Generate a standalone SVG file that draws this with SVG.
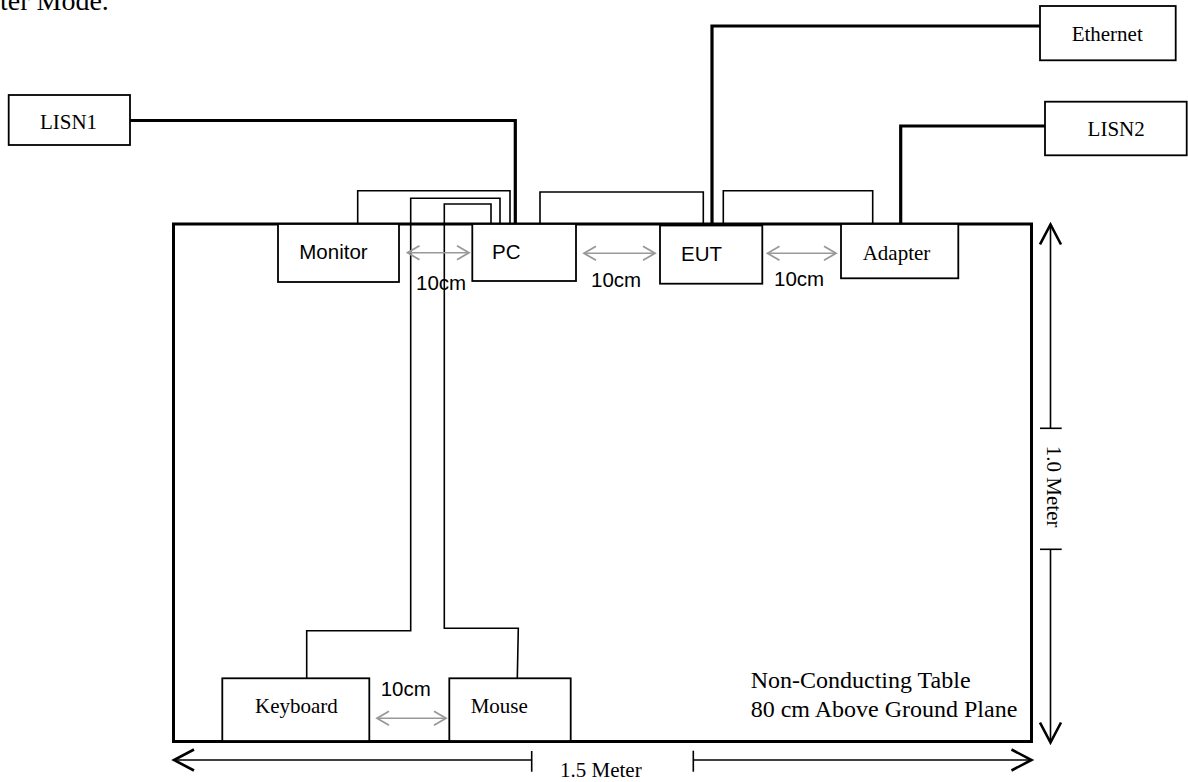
<svg xmlns="http://www.w3.org/2000/svg" width="1188" height="782" viewBox="0 0 1188 782">
<defs>
<style>
.serif{font-family:"Liberation Serif","Times New Roman",serif;font-size:21px;fill:#000}
.sans{font-family:"Liberation Sans",Arial,sans-serif;font-size:20.5px;fill:#000}
.box{fill:#fff;stroke:#000;stroke-width:1.8}
.cable{fill:none;stroke:#000;stroke-width:1.6}
.thick{fill:none;stroke:#000;stroke-width:3.2}
.gap{fill:none;stroke:#999;stroke-width:1.6;marker-start:url(#ga);marker-end:url(#ga)}
.dim{fill:none;stroke:#000;stroke-width:1.6}
</style>
<marker id="ga" markerUnits="userSpaceOnUse" viewBox="-14 -9 16 18" markerWidth="16" markerHeight="18" refX="0" refY="0" orient="auto-start-reverse">
<path d="M-12,-7 L0,0 L-12,7" fill="none" stroke="#999" stroke-width="1.8"/>
</marker>
<marker id="ba" markerUnits="userSpaceOnUse" viewBox="-23 -12 26 24" markerWidth="26" markerHeight="24" refX="0" refY="0" orient="auto-start-reverse">
<path d="M-20,-10.5 L0,0 L-20,10.5" fill="none" stroke="#000" stroke-width="2.6"/>
</marker>
</defs>
<rect width="1188" height="782" fill="#fff"/>
<text x="0" y="10" style="font-family:'Liberation Serif','Times New Roman',serif;font-size:28px">ter Mode.</text>

<g id="table">
<rect x="173.5" y="224" width="858" height="517.5" fill="none" stroke="#000" stroke-width="3"/>
<text class="serif" x="750.7" y="688.3" style="font-size:24px">Non-Conducting Table</text>
<text class="serif" x="750.7" y="716.7" style="font-size:24px">80 cm Above Ground Plane</text>
</g>

<g id="connectors">
<polyline class="thick" points="130,120.5 515.3,120.5 515.3,224"/>
<polyline class="thick" points="712,224 712,26 1040,26"/>
<polyline class="thick" points="900.7,224 900.7,126 1045,126"/>
<polyline class="cable" points="357.7,224 357.7,190.7 510,190.7 510,224"/>
<polyline class="cable" points="500,224 500,198.3 410.7,198.3 410.7,630.7 306.7,630.7 306.7,678"/>
<polyline class="cable" points="491,224 491,204 444.3,204 444.3,628.3 518.3,628.3 517.3,678"/>
<polyline class="cable" points="540,224 540,192 703.3,192 703.3,224"/>
<polyline class="cable" points="723.3,224 723.3,190.7 872.7,190.7 872.7,224"/>
<line class="gap" x1="407.5" y1="252.7" x2="469" y2="252.7"/>
<line class="gap" x1="584" y1="253.3" x2="655" y2="253.3"/>
<line class="gap" x1="767.5" y1="253.3" x2="836" y2="253.3"/>
<line class="gap" x1="377" y1="718.3" x2="446" y2="718.3"/>
</g>

<g id="gap-labels">
<text class="sans" x="416" y="290">10cm</text>
<text class="sans" x="591" y="287.3">10cm</text>
<text class="sans" x="774" y="286">10cm</text>
<text class="sans" x="380.7" y="696">10cm</text>
</g>

<g id="lisn1"><rect class="box" x="8.7" y="95" width="121.3" height="50"/><text class="serif" x="68.5" y="129.3" text-anchor="middle">LISN1</text></g>
<g id="ethernet"><rect class="box" x="1040" y="6" width="135.7" height="54.3"/><text class="serif" x="1107.2" y="41" text-anchor="middle">Ethernet</text></g>
<g id="lisn2"><rect class="box" x="1045" y="101.7" width="141.7" height="53.6"/><text class="serif" x="1116.2" y="136" text-anchor="middle">LISN2</text></g>
<g id="monitor"><rect class="box" x="278" y="224" width="121" height="58"/><text class="sans" x="299.3" y="259.3">Monitor</text></g>
<g id="pc"><rect class="box" x="472.3" y="224" width="103.7" height="57"/><text class="sans" x="492" y="259">PC</text></g>
<g id="eut"><rect class="box" x="660" y="225.5" width="102.3" height="58.2"/><text class="sans" x="681" y="260.7">EUT</text></g>
<g id="adapter"><rect class="box" x="841" y="224" width="117.3" height="54.3"/><text class="serif" x="862.7" y="260">Adapter</text></g>
<g id="keyboard"><rect class="box" x="222.3" y="678.3" width="147" height="62.7"/><text class="serif" x="255" y="713.3">Keyboard</text></g>
<g id="mouse"><rect class="box" x="449.3" y="678.3" width="121.4" height="62.7"/><text class="serif" x="470.7" y="713.3">Mouse</text></g>

<g id="dimensions">
<line class="dim" x1="174" y1="760" x2="531.7" y2="760" marker-start="url(#ba)"/>
<line class="dim" x1="531.7" y1="751" x2="531.7" y2="771.7"/>
<line class="dim" x1="693.3" y1="760" x2="1031.5" y2="760" marker-end="url(#ba)"/>
<line class="dim" x1="693.3" y1="750.7" x2="693.3" y2="771.7"/>
<text class="serif" x="560" y="776.7">1.5 Meter</text>
<line class="dim" x1="1050.5" y1="224.5" x2="1050.5" y2="428.3" marker-start="url(#ba)"/>
<line class="dim" x1="1040" y1="428.3" x2="1061.7" y2="428.3"/>
<line class="dim" x1="1050.5" y1="549.3" x2="1050.5" y2="742.5" marker-end="url(#ba)"/>
<line class="dim" x1="1040" y1="549.3" x2="1061.7" y2="549.3"/>
<text class="serif" transform="translate(1047,486.7) rotate(90)" text-anchor="middle">1.0 Meter</text>
</g>
</svg>
